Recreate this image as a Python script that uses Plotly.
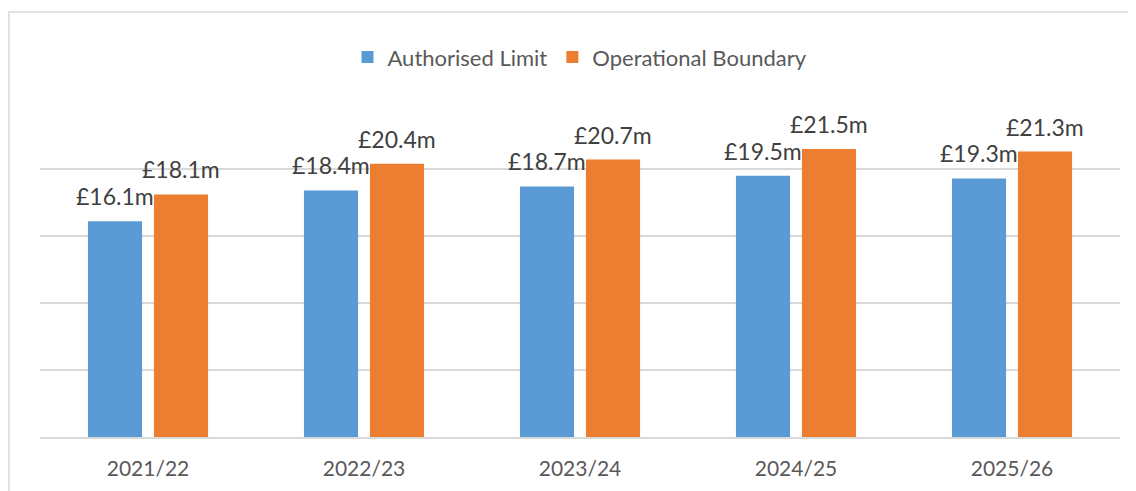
import plotly.graph_objects as go

categories = ["2021/22", "2022/23", "2023/24", "2024/25", "2025/26"]
authorised_limit = [16.1, 18.4, 18.7, 19.5, 19.3]
operational_boundary = [18.1, 20.4, 20.7, 21.5, 21.3]
series_names = ["Authorised Limit", "Operational Boundary"]
colors = ["#5B9BD5", "#ED7D31"]

FONT = "Lato"
TXT = "#595959"

fig = go.Figure()
series = [authorised_limit, operational_boundary]
for name, vals, col in zip(series_names, series, colors):
    fig.add_trace(go.Bar(
        x=categories, y=vals, name=name, marker_color=col,
        marker_line_width=0, cliponaxis=False,
    ))

# data labels above each bar (grouped bar centres are +/- half a slot from category centre)
for k, vals in enumerate(series):
    shift = -33 if k == 0 else 33
    for c, v in zip(categories, vals):
        fig.add_annotation(x=c, y=v, text=f"£{v:.1f}m", showarrow=False,
                           xref="x", yref="y", xanchor="center", yanchor="bottom",
                           xshift=shift, yshift=9,
                           font=dict(family=FONT, size=23, color="#404040"))

fig.update_layout(
    width=1136, height=491,
    margin=dict(l=32, r=24, t=94, b=62),
    paper_bgcolor="white", plot_bgcolor="white",
    barmode="group", bargap=0.389, bargroupgap=0.18,
    font=dict(family=FONT, size=20, color=TXT),
    showlegend=True,
    legend=dict(orientation="h", x=0.5, xanchor="center", y=1.134, yanchor="middle",
                font=dict(family=FONT, size=22, color=TXT), itemwidth=30,
                traceorder="normal"),
    xaxis=dict(showgrid=False, showline=True, linecolor="#d9d9d9", linewidth=1.5,
               ticks="", ticklabelstandoff=12,
               tickfont=dict(family=FONT, size=21, color=TXT)),
    yaxis=dict(range=[0, 25], dtick=5, showgrid=True, gridcolor="#d9d9d9", gridwidth=1.5,
               showticklabels=False, zeroline=False, ticks=""),
)
fig.add_shape(type="rect", xref="paper", yref="paper",
              x0=-0.0287, x1=1.2, y0=-0.3, y1=1.2687,
              line=dict(color="#d9d9d9", width=1.5), fillcolor="rgba(0,0,0,0)", layer="below")

fig.write_html("out.html")
